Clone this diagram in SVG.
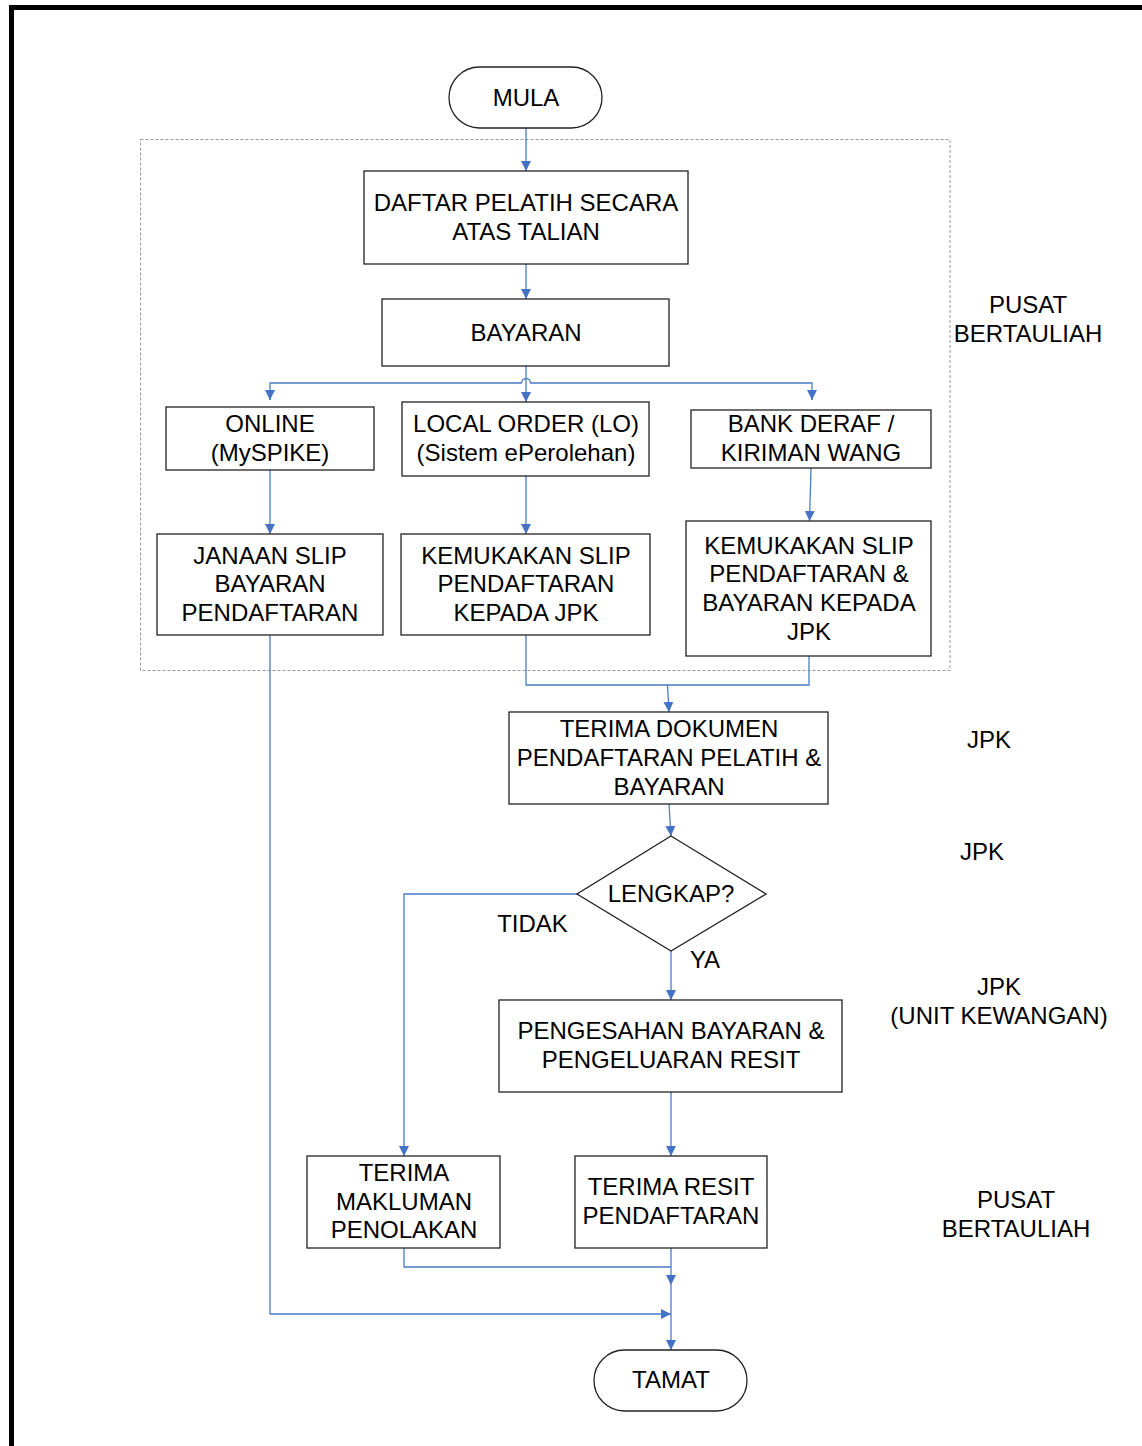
<svg xmlns="http://www.w3.org/2000/svg" width="1142" height="1446" viewBox="0 0 1142 1446">
<style>
.n{fill:#fff;stroke:#222;stroke-width:1.3}
.t{font-family:"Liberation Sans",Arial,sans-serif;font-size:24px;fill:#000;text-anchor:middle}
.c{fill:none;stroke:#4a7cc9;stroke-width:1.3}
</style>
<defs>
<marker id="a" viewBox="0 0 10 10" refX="10" refY="5" markerWidth="10" markerHeight="10" markerUnits="userSpaceOnUse" orient="auto">
<path d="M0,0 L10,5 L0,10 Z" fill="#4472c4"/>
</marker>
</defs>
<rect width="1142" height="1446" fill="#fff"/>
<path d="M11.5,1450 V7.5 H1146" fill="none" stroke="#000" stroke-width="5"/>
<rect x="140.5" y="139.5" width="809.5" height="531" fill="none" stroke="#999" stroke-width="1" stroke-dasharray="3,2"/>

<g id="connectors">
<path class="c" d="M526,128 V171" marker-end="url(#a)"/>
<path class="c" d="M526,264 V299" marker-end="url(#a)"/>
<path class="c" d="M526,366 V402" marker-end="url(#a)"/>
<path class="c" d="M270,400 V383 H521.5 A4.5,4.5 0 0 1 530.5,383 H812 V400"/>
<path class="c" d="M270,390 V400" marker-end="url(#a)"/>
<path class="c" d="M812,390 V400" marker-end="url(#a)"/>
<path class="c" d="M270,470 V534" marker-end="url(#a)"/>
<path class="c" d="M526,476 V534" marker-end="url(#a)"/>
<path class="c" d="M811,468 L809.5,521" marker-end="url(#a)"/>
<path class="c" d="M526,635 V685 H809 V656"/>
<path class="c" d="M667.5,685 L669,712" marker-end="url(#a)"/>
<path class="c" d="M669,804 L671,836" marker-end="url(#a)"/>
<path class="c" d="M577,894 H404 V1156" marker-end="url(#a)"/>
<path class="c" d="M671,951 V1000" marker-end="url(#a)"/>
<path class="c" d="M671,1092 V1156" marker-end="url(#a)"/>
<path class="c" d="M671,1248 V1285" marker-end="url(#a)"/>
<path class="c" d="M404,1248 V1267 H671"/>
<path class="c" d="M270,635 V1314 H671" marker-end="url(#a)"/>
<path class="c" d="M671,1285 V1350" marker-end="url(#a)"/>
</g>

<g id="mula"><rect class="n" x="449" y="67" width="153" height="61" rx="30.5"/><text class="t" x="526" y="105.5">MULA</text></g>
<g id="daftar"><rect class="n" x="364" y="171" width="324" height="93"/><text class="t" x="526" y="211">DAFTAR PELATIH SECARA</text><text class="t" x="526" y="240">ATAS TALIAN</text></g>
<g id="bayaran"><rect class="n" x="382" y="299" width="287" height="67"/><text class="t" x="526" y="341">BAYARAN</text></g>
<g id="online"><rect class="n" x="166" y="407" width="208" height="63"/><text class="t" x="270" y="432">ONLINE</text><text class="t" x="270" y="461">(MySPIKE)</text></g>
<g id="lo"><rect class="n" x="402" y="402" width="247" height="74"/><text class="t" x="526" y="432">LOCAL ORDER (LO)</text><text class="t" x="526" y="461">(Sistem ePerolehan)</text></g>
<g id="bank"><rect class="n" x="691" y="410" width="240" height="58"/><text class="t" x="811" y="432">BANK DERAF /</text><text class="t" x="811" y="461">KIRIMAN WANG</text></g>
<g id="janaan"><rect class="n" x="157" y="534" width="226" height="101"/><text class="t" x="270" y="563.5">JANAAN SLIP</text><text class="t" x="270" y="592">BAYARAN</text><text class="t" x="270" y="620.7">PENDAFTARAN</text></g>
<g id="kemukakan-lo"><rect class="n" x="401" y="534" width="249" height="101"/><text class="t" x="526" y="563.5">KEMUKAKAN SLIP</text><text class="t" x="526" y="592">PENDAFTARAN</text><text class="t" x="526" y="620.7">KEPADA JPK</text></g>
<g id="kemukakan-bank"><rect class="n" x="686" y="521" width="245" height="135"/><text class="t" x="809" y="553.5">KEMUKAKAN SLIP</text><text class="t" x="809" y="582">PENDAFTARAN &amp;</text><text class="t" x="809" y="611">BAYARAN KEPADA</text><text class="t" x="809" y="640">JPK</text></g>
<g id="terima-dokumen"><rect class="n" x="509" y="712" width="319" height="92"/><text class="t" x="669" y="737">TERIMA DOKUMEN</text><text class="t" x="669" y="766">PENDAFTARAN PELATIH &amp;</text><text class="t" x="669" y="795">BAYARAN</text></g>
<g id="lengkap"><path class="n" d="M671,836 L766,894 L671,951 L577,894 Z"/><text class="t" x="671" y="901.5">LENGKAP?</text></g>
<g id="pengesahan"><rect class="n" x="499" y="1000" width="343" height="92"/><text class="t" x="671" y="1039">PENGESAHAN BAYARAN &amp;</text><text class="t" x="671" y="1068">PENGELUARAN RESIT</text></g>
<g id="makluman"><rect class="n" x="307" y="1156" width="193" height="92"/><text class="t" x="404" y="1181">TERIMA</text><text class="t" x="404" y="1209.5">MAKLUMAN</text><text class="t" x="404" y="1238">PENOLAKAN</text></g>
<g id="resit"><rect class="n" x="575" y="1156" width="192" height="92"/><text class="t" x="671" y="1195">TERIMA RESIT</text><text class="t" x="671" y="1224">PENDAFTARAN</text></g>
<g id="tamat"><rect class="n" x="594" y="1350" width="153" height="61" rx="30.5"/><text class="t" x="671" y="1388">TAMAT</text></g>

<g id="labels">
<text class="t" x="532.5" y="932">TIDAK</text>
<text class="t" x="705" y="967.5">YA</text>
<text class="t" x="1028" y="313">PUSAT</text>
<text class="t" x="1028" y="342">BERTAULIAH</text>
<text class="t" x="989" y="748">JPK</text>
<text class="t" x="982" y="860">JPK</text>
<text class="t" x="999" y="995">JPK</text>
<text class="t" x="999" y="1024">(UNIT KEWANGAN)</text>
<text class="t" x="1016" y="1208">PUSAT</text>
<text class="t" x="1016" y="1237">BERTAULIAH</text>
</g>
</svg>
